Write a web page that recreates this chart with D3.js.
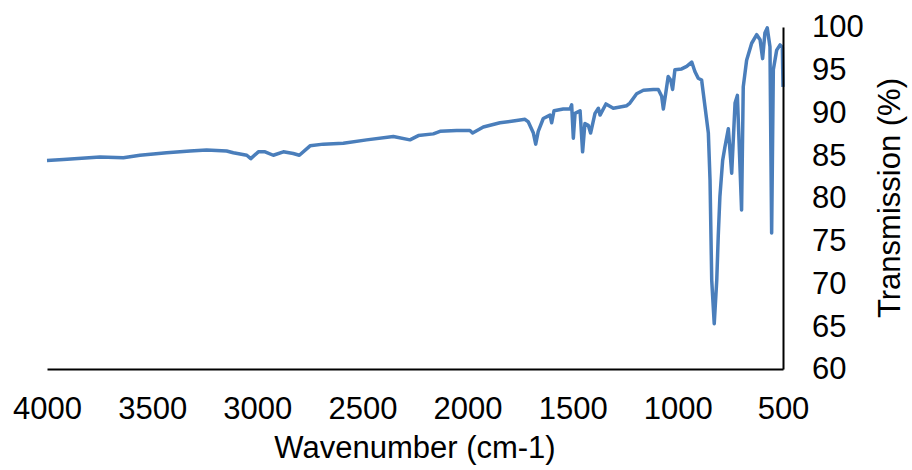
<!DOCTYPE html>
<html>
<head>
<meta charset="utf-8">
<script src="https://cdn.jsdelivr.net/npm/d3@7"></script>
<style>
  body { margin: 0; background: #fff; }
  text { font-family: "Liberation Sans", Arial, sans-serif; fill: #000; }
</style>
</head>
<body>
<div id="chart"></div>
<script>
// wavenumber (cm-1)
const wavenumber = [4000, 3922, 3748, 3637, 3558, 3431, 3320, 3241, 3146, 3114,
  3050, 3031, 2995, 2963, 2924, 2876, 2829, 2800, 2749, 2686,
  2591, 2480, 2353, 2274, 2234, 2163, 2131, 2052, 1989, 1976,
  1925, 1846, 1783, 1727, 1711, 1687, 1676, 1664, 1640, 1608,
  1600, 1589, 1545, 1513, 1505, 1497, 1489, 1465, 1453, 1442,
  1426, 1415, 1394, 1378, 1370, 1342, 1307, 1243, 1228, 1196,
  1164, 1117, 1093, 1077, 1069, 1058, 1046, 1034, 1025, 1014,
  982, 958, 934, 919, 903, 887, 871, 855, 847, 839,
  827, 815, 808, 800, 787, 776, 760, 744, 728, 717,
  697, 689, 673, 649, 625, 609, 597, 586, 575, 562,
  554, 546, 530, 514, 503, 500];
// transmission (%)
const transmission = [84.4, 84.5, 84.8, 84.7, 85.0, 85.3, 85.5, 85.6, 85.5, 85.3,
  85.0, 84.6, 85.4, 85.4, 85.0, 85.4, 85.2, 85.0, 86.1, 86.3,
  86.4, 86.8, 87.2, 86.8, 87.3, 87.5, 87.8, 87.9, 87.9, 87.6,
  88.3, 88.8, 89.0, 89.2, 88.9, 87.6, 86.3, 87.8, 89.3, 89.7,
  88.8, 90.2, 90.4, 90.4, 90.9, 87.0, 89.9, 90.2, 85.4, 88.7,
  88.5, 87.6, 89.9, 90.5, 89.7, 91.0, 90.5, 90.8, 91.1, 92.2,
  92.6, 92.7, 92.7, 91.9, 90.4, 92.2, 94.2, 93.8, 92.7, 95.0,
  95.1, 95.4, 95.9, 94.8, 94.0, 93.8, 90.7, 87.6, 82.1, 70.4,
  65.3, 70.4, 75.5, 80.2, 84.4, 86.0, 88.1, 82.9, 91.1, 92.0,
  78.6, 93.0, 96.1, 98.1, 99.1, 98.5, 96.3, 99.3, 99.9, 97.7,
  75.9, 95.0, 97.3, 97.9, 97.6, 93.0];

const xTicks = [4000, 3500, 3000, 2500, 2000, 1500, 1000, 500];
const yTicks = [60, 65, 70, 75, 80, 85, 90, 95, 100];

const width = 912, height = 470;
const svg = d3.select("#chart").append("svg")
    .attr("width", width)
    .attr("height", height);

const x = d3.scaleLinear().domain([4000, 500]).range([47, 783]);
const y = d3.scaleLinear().domain([60, 100]).range([369, 27]);

const data = wavenumber.map((w, i) => ({ w: w, t: transmission[i] }));

svg.append("path")
    .datum(data)
    .attr("fill", "none")
    .attr("stroke", "#4a7ebb")
    .attr("stroke-width", 3.5)
    .attr("stroke-linejoin", "round")
    .attr("d", d3.line().x(d => x(d.w)).y(d => y(d.t)));

// x axis
const gx = svg.append("g")
    .attr("transform", `translate(0,${y(60)})`)
    .call(d3.axisBottom(x).tickValues(xTicks).tickSize(0).tickPadding(28).tickFormat(d3.format("d")));
gx.select(".domain").attr("stroke", "#000").attr("stroke-width", 2);
gx.selectAll("text").style("font-size", "31px");

// y axis on the right
const gy = svg.append("g")
    .attr("transform", `translate(${x(500)},0)`)
    .call(d3.axisRight(y).tickValues(yTicks).tickSize(0).tickPadding(29));
gy.select(".domain").attr("stroke", "#000").attr("stroke-width", 2);
gy.selectAll("text").style("font-size", "31px");

svg.append("text")
    .attr("x", 415).attr("y", 458)
    .attr("text-anchor", "middle")
    .style("font-size", "31px")
    .text("Wavenumber (cm-1)");

svg.append("text")
    .attr("transform", "translate(900,198) rotate(-90)")
    .attr("text-anchor", "middle")
    .style("font-size", "31px")
    .text("Transmission (%)");
</script>
</body>
</html>
